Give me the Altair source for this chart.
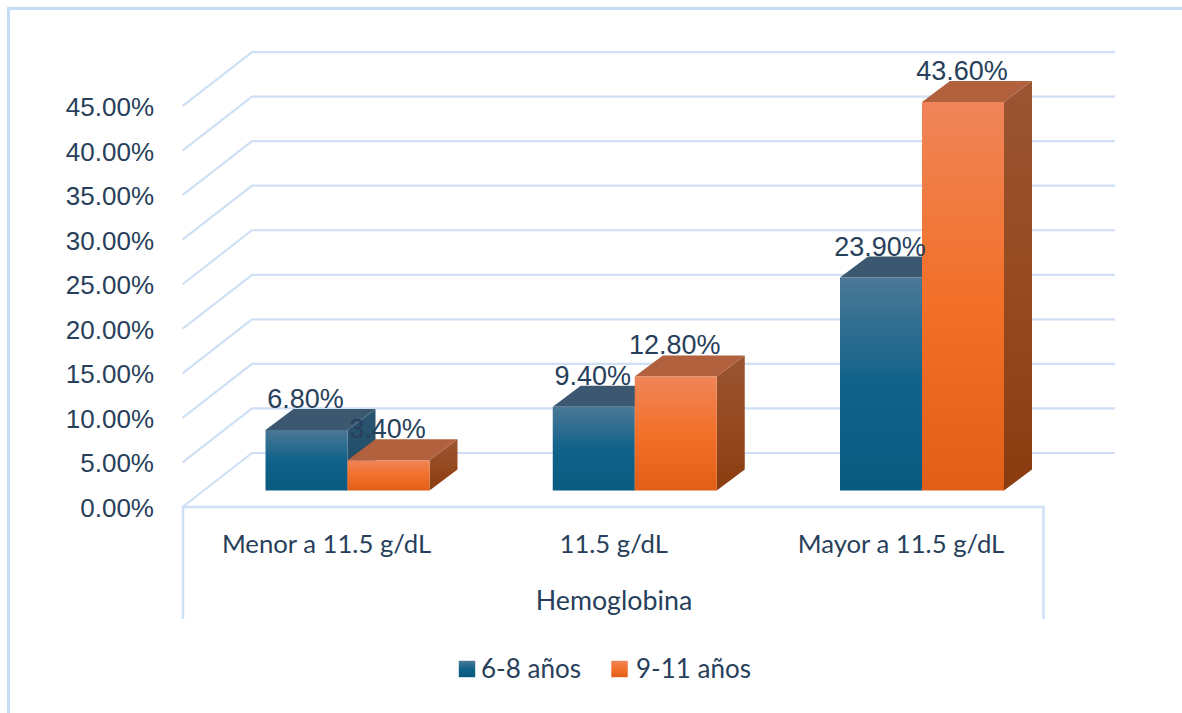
import altair as alt
import pandas as pd

# Chart values
categories = ["Menor a 11.5 g/dL", "11.5 g/dL", "Mayor a 11.5 g/dL"]
series_names = ["6-8 años", "9-11 años"]
values_young = [6.8, 9.4, 23.9]
values_old = [3.4, 12.8, 43.6]
y_ticks = [0, 5, 10, 15, 20, 25, 30, 35, 40, 45]
axis_title = "Hemoglobina"

W, H = 1182, 713
PX_PER_PCT = 8.91
PX_PER_CAT = 287.25
ZERO_PY = 490.5
CAT0_PX = 347.5


def ux(px):
    """Canvas x expressed in category units."""
    return (px - CAT0_PX) / PX_PER_CAT


def uy(py):
    """Canvas y expressed in percent units."""
    return (ZERO_PY - py) / PX_PER_PCT


x_scale = alt.Scale(domain=[ux(0), ux(W)], nice=False, zero=False)
y_scale = alt.Scale(domain=[uy(H), uy(0)], nice=False, zero=False)
X = alt.X("x:Q", scale=x_scale, axis=None)
Y = alt.Y("y:Q", scale=y_scale, axis=None)
X2 = alt.X2("x2:Q")
Y2 = alt.Y2("y2:Q")

BAR_W = 82 / PX_PER_CAT
DEPTH_X = 28 / PX_PER_CAT
DEPTH_Y = 21 / PX_PER_PCT

GRID = "#cfe0f5"
FRAME = "#c4dcf6"
INK = "#283f5b"
SANS = "Liberation Sans"
LABEL_FONT = "Lato"


def grad(top, mid, bottom):
    return alt.Gradient(
        gradient="linear", x1=0, y1=0, x2=0, y2=1,
        stops=[
            alt.GradientStop(color=top, offset=0),
            alt.GradientStop(color=mid, offset=0.5),
            alt.GradientStop(color=bottom, offset=1),
        ],
    )


styles = [
    dict(front=grad("#4b7896", "#11628a", "#0a5a80"),
         side=grad("#2c5470", "#22506a", "#1a4660"), top="#3c5870"),
    dict(front=grad("#f08559", "#f27029", "#e05e17"),
         side=grad("#9a5533", "#964a20", "#8a3c10"), top="#b1613d"),
]

# Walls and floor of the 3D box
wall_back_l, wall_back_r, wall_front = ux(252), ux(1115), ux(182.5)
back_shift, front_shift = uy(453), uy(507)

grid_rows = []
for t in y_ticks:
    for x, y in [(wall_front, t + front_shift), (wall_back_l, t + back_shift), (wall_back_r, t + back_shift)]:
        grid_rows.append(dict(x=x, y=y, level=t))
grid = alt.Chart(pd.DataFrame(grid_rows)).mark_line(color=GRID, strokeWidth=2.2).encode(
    x=X, y=Y, detail="level:N", order=alt.Order("row:Q")
).transform_window(row="row_number()", groupby=["level"])

floor_rows = [
    dict(x=ux(183), y=uy(619), path=0),
    dict(x=ux(183), y=uy(507), path=0),
    dict(x=ux(1043.5), y=uy(507), path=0),
    dict(x=ux(1043.5), y=uy(619), path=0),
    dict(x=ux(8.5), y=uy(H), path=1),
    dict(x=ux(8.5), y=uy(8.5), path=1),
    dict(x=ux(W), y=uy(8.5), path=1),
]
floor_df = pd.DataFrame(floor_rows)
floor = alt.Chart(floor_df[floor_df.path == 0]).mark_line(color=GRID, strokeWidth=2.6).encode(
    x=X, y=Y, order=alt.Order("row:Q")
).transform_window(row="row_number()")
frame = alt.Chart(floor_df[floor_df.path == 1]).mark_line(color=FRAME, strokeWidth=3).encode(
    x=X, y=Y, order=alt.Order("row:Q")
).transform_window(row="row_number()")

layers = [frame, grid, floor]

# Bars: a front rectangle, a sloped side face and a sloped top face per value
for s, vals in enumerate([values_young, values_old]):
    st = styles[s]
    fronts, sides, tops = [], [], []
    for i, v in enumerate(vals):
        x0 = i - BAR_W + s * BAR_W
        x1 = x0 + BAR_W
        fronts.append(dict(x=x0, x2=x1, y=0, y2=v))
        sides.append(dict(bar=i, x=x1, y=v, y2=0))
        sides.append(dict(bar=i, x=x1 + DEPTH_X, y=v + DEPTH_Y, y2=DEPTH_Y))
        tops.append(dict(bar=i, y=v, x=x0, x2=x1))
        tops.append(dict(bar=i, y=v + DEPTH_Y, x=x0 + DEPTH_X, x2=x1 + DEPTH_X))
    layers.append(
        alt.Chart(pd.DataFrame(sides)).mark_area(color=st["side"]).encode(x=X, y=Y, y2=Y2, detail="bar:N")
    )
    layers.append(
        alt.Chart(pd.DataFrame(tops)).mark_area(color=st["top"], orient="horizontal").encode(
            y=Y, x=X, x2=X2, detail="bar:N"
        )
    )
    layers.append(
        alt.Chart(pd.DataFrame(fronts)).mark_bar(color=st["front"]).encode(x=X, x2=X2, y=Y, y2=Y2)
    )

# Value labels
label_rows = []
for s, vals in enumerate([values_young, values_old]):
    for i, v in enumerate(vals):
        label_rows.append(dict(x=i - BAR_W / 2 + s * BAR_W, y=v, t=f"{v:.2f}%"))
layers.append(
    alt.Chart(pd.DataFrame(label_rows)).mark_text(
        font=SANS, fontSize=27, color=INK, baseline="middle", align="center", dy=-30, dx=-1
    ).encode(x=X, y=Y, text="t:N")
)

# Value axis labels, on the front edge of the floor
tick_df = pd.DataFrame([dict(x=ux(154), y=t + front_shift, t=f"{t:.2f}%") for t in y_ticks])
layers.append(
    alt.Chart(tick_df).mark_text(
        font=SANS, fontSize=26, color=INK, baseline="middle", align="right", dy=2
    ).encode(x=X, y=Y, text="t:N")
)

# Category labels and axis title
cat_df = pd.DataFrame(
    [dict(x=i - 21 / PX_PER_CAT, y=uy(545), t=c) for i, c in enumerate(categories)]
)
layers.append(
    alt.Chart(cat_df).mark_text(
        font=LABEL_FONT, fontSize=25.7, color=INK, baseline="middle", align="center"
    ).encode(x=X, y=Y, text="t:N")
)
title_df = pd.DataFrame([dict(x=ux(614), y=uy(602), t=axis_title)])
layers.append(
    alt.Chart(title_df).mark_text(
        font=LABEL_FONT, fontSize=26.8, color=INK, baseline="middle", align="center"
    ).encode(x=X, y=Y, text="t:N")
)

# Legend
for s, (name, sq_px, txt_px) in enumerate(zip(series_names, [467, 619.5], [481, 636])):
    layers.append(
        alt.Chart(pd.DataFrame([dict(x=ux(sq_px), y=uy(669))])).mark_square(
            color=styles[s]["front"], opacity=1, size=270
        ).encode(x=X, y=Y)
    )
    layers.append(
        alt.Chart(pd.DataFrame([dict(x=ux(txt_px), y=uy(670), t=name)])).mark_text(
            font=LABEL_FONT, fontSize=26, color=INK, baseline="middle", align="left"
        ).encode(x=X, y=Y, text="t:N")
    )

chart = alt.layer(*layers).properties(
    width=W, height=H, padding=0, background="white",
    autosize=alt.AutoSizeParams(type="none"),
).configure_view(stroke=None)

chart.save("out.html", embed_options={"renderer": "svg", "actions": False})
